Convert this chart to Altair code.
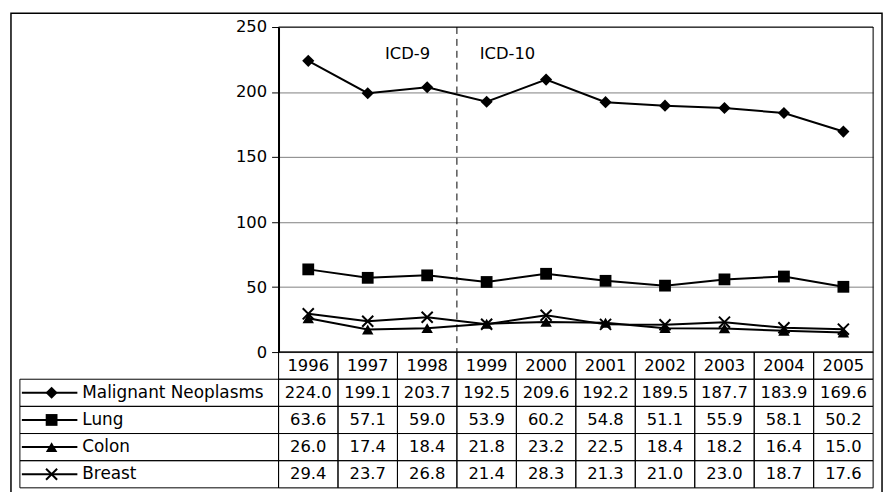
import altair as alt
import pandas as pd

# ---------------- data ----------------
years = ["1996", "1997", "1998", "1999", "2000", "2001", "2002", "2003", "2004", "2005"]
series_names = ["Malignant Neoplasms", "Lung", "Colon", "Breast"]
malignant = [224.0, 199.1, 203.7, 192.5, 209.6, 192.2, 189.5, 187.7, 183.9, 169.6]
lung = [63.6, 57.1, 59.0, 53.9, 60.2, 54.8, 51.1, 55.9, 58.1, 50.2]
colon = [26.0, 17.4, 18.4, 21.8, 23.2, 22.5, 18.4, 18.2, 16.4, 15.0]
breast = [29.4, 23.7, 26.8, 21.4, 28.3, 21.3, 21.0, 23.0, 18.7, 17.6]
y_ticks = [0, 50, 100, 150, 200, 250]
era_labels = ["ICD-9", "ICD-10"]
era_break = "1999"

# ---------------- tables built from the lists ----------------
values = [malignant, lung, colon, breast]
long_rows = []
for name, vals in zip(series_names, values):
    for yr, v in zip(years, vals):
        long_rows.append({"series": name, "year": yr, "value": v})
df = pd.DataFrame(long_rows)

table_rows = [{"series": "year", "year": yr, "text": yr} for yr in years]
for name, vals in zip(series_names, values):
    for yr, v in zip(years, vals):
        table_rows.append({"series": name, "year": yr, "text": f"{v:.1f}"})
tdf = pd.DataFrame(table_rows)
ldf = pd.DataFrame({"series": series_names})
row_order = ["year"] + series_names

FONT = "DejaVu Sans"
W, PLOT_H, TABLE_H = 600, 328, 137

shape_scale = alt.Scale(domain=series_names,
                        range=["diamond", "square", "triangle-up", "M-1,-1L1,1M-1,1L1,-1"])
size_scale = alt.Scale(domain=series_names, range=[150, 125, 125, 110])

x_enc = alt.X("year:O", scale=alt.Scale(type="band", domain=years, paddingInner=0, paddingOuter=0),
              axis=None)
y_plot = alt.Y("value:Q",
               scale=alt.Scale(domain=[0, 250], range=[PLOT_H, 0], nice=False, zero=True),
               axis=alt.Axis(values=y_ticks, grid=True, gridColor="#808080", gridWidth=1,
                             domainColor="black", domainWidth=2, tickColor="black", tickSize=7,
                             tickWidth=1, labelPadding=5, labelFont=FONT, labelFontSize=16.5,
                             labelColor="black", title=None))
y_table = alt.Y("series:N",
                scale=alt.Scale(type="band", domain=row_order, range=[PLOT_H, PLOT_H + TABLE_H],
                                paddingInner=0, paddingOuter=0),
                axis=None)

base = alt.Chart(df)

lines = base.mark_line(color="black", strokeWidth=2).encode(x=x_enc, y=y_plot, detail="series:N")
pts_filled = base.transform_filter(alt.datum.series != "Breast").mark_point(
    filled=True, color="black", opacity=1).encode(
    x=x_enc, y=y_plot,
    shape=alt.Shape("series:N", scale=shape_scale, legend=None),
    size=alt.Size("series:N", scale=size_scale, legend=None))
pts_x = base.transform_filter(alt.datum.series == "Breast").mark_point(
    filled=False, color="black", strokeWidth=2, opacity=1).encode(
    x=x_enc, y=y_plot,
    shape=alt.Shape("series:N", scale=shape_scale, legend=None),
    size=alt.Size("series:N", scale=size_scale, legend=None))

plot_border = alt.Chart(pd.DataFrame({"a": [0]})).mark_rect(
    fillOpacity=0, stroke="black", strokeWidth=1).encode(
    x=alt.value(0), x2=alt.value(W), y=alt.datum(250), y2=alt.datum(0))

brk = pd.DataFrame({"year": [era_break]})
break_rule = alt.Chart(brk).mark_rule(color="black", strokeWidth=1, strokeDash=[7, 5]).encode(
    x=alt.X("year:O", bandPosition=0,
            scale=alt.Scale(type="band", domain=years, paddingInner=0, paddingOuter=0), axis=None),
    y=alt.datum(250), y2=alt.datum(0))
icd9 = alt.Chart(pd.DataFrame({"year": [era_break], "label": [era_labels[0]]})).mark_text(
    align="right", baseline="middle", dx=-27, font=FONT, fontSize=16.5, color="black").encode(
    x=alt.X("year:O", bandPosition=0,
            scale=alt.Scale(type="band", domain=years, paddingInner=0, paddingOuter=0), axis=None),
    y=alt.datum(229), text="label:N")
icd10 = alt.Chart(pd.DataFrame({"year": [era_break], "label": [era_labels[1]]})).mark_text(
    align="left", baseline="middle", dx=23, font=FONT, fontSize=16.5, color="black").encode(
    x=alt.X("year:O", bandPosition=0,
            scale=alt.Scale(type="band", domain=years, paddingInner=0, paddingOuter=0), axis=None),
    y=alt.datum(229), text="label:N")

outer_border = alt.Chart(pd.DataFrame({"a": [0]})).mark_rect(
    fillOpacity=0, stroke="black", strokeWidth=1.5).encode(
    x=alt.value(-270), x2=alt.value(609), y=alt.value(-14), y2=alt.value(480))

plot_layer = alt.layer(plot_border, break_rule, lines, pts_filled, pts_x, icd9, icd10)

# ---------------- data table ----------------
cells = alt.Chart(tdf).mark_rect(fillOpacity=0, stroke="black", strokeWidth=1).encode(
    x=x_enc, y=y_table)
cell_text = alt.Chart(tdf).mark_text(font=FONT, fontSize=16.5, color="black",
                                     baseline="middle").encode(x=x_enc, y=y_table, text="text:N")
label_cells = alt.Chart(ldf).mark_rect(fillOpacity=0, stroke="black", strokeWidth=1).encode(
    x=alt.value(-261), x2=alt.value(0), y=y_table)
label_text = alt.Chart(ldf).mark_text(font=FONT, fontSize=17, color="black", align="left",
                                      baseline="middle").encode(
    x=alt.value(-198), y=y_table, text="series:N")
label_line = alt.Chart(ldf).mark_rule(color="black", strokeWidth=2).encode(
    x=alt.value(-259), x2=alt.value(-203), y=y_table)
label_sym = alt.Chart(ldf).transform_filter(alt.datum.series != "Breast").mark_point(
    filled=True, color="black", opacity=1).encode(
    x=alt.value(-229), y=y_table,
    shape=alt.Shape("series:N", scale=shape_scale, legend=None),
    size=alt.Size("series:N", scale=size_scale, legend=None))
label_x = alt.Chart(ldf).transform_filter(alt.datum.series == "Breast").mark_point(
    filled=False, color="black", strokeWidth=2, opacity=1).encode(
    x=alt.value(-229), y=y_table,
    shape=alt.Shape("series:N", scale=shape_scale, legend=None),
    size=alt.Size("series:N", scale=size_scale, legend=None))

table_layer = alt.layer(cells, cell_text, label_cells, label_line, label_sym, label_x, label_text)

chart = alt.layer(outer_border, plot_layer, table_layer).resolve_scale(y="independent").properties(
    width=W, height=PLOT_H + TABLE_H,
    autosize=alt.AutoSizeParams(type="none"),
    padding={"left": 273, "top": 17, "right": 12, "bottom": 2},
).configure_view(stroke=None).configure(background="white")

chart.save("out.html", embed_options={"renderer": "svg", "actions": False})
